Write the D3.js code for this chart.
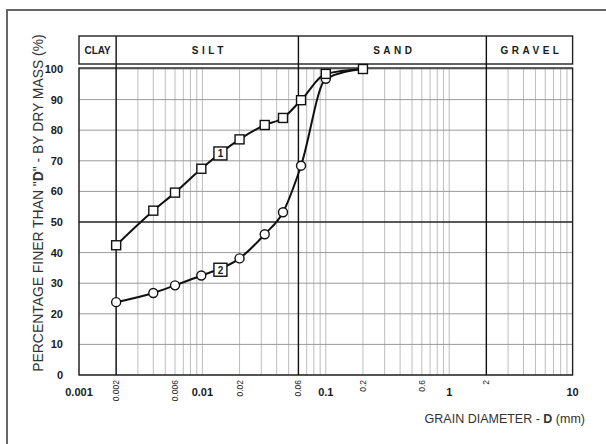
<!DOCTYPE html>
<html>
<head>
<meta charset="utf-8">
<script src="https://cdn.jsdelivr.net/npm/d3@7"></script>
<style>
  body { margin: 0; background: #fff; }
  text { font-family: "Liberation Sans", Arial, sans-serif; fill: #1a1a1a; }
</style>
</head>
<body>
<svg id="chart" width="606" height="444"></svg>
<script>
const width = 606, height = 444;

// grain sizes (mm) and percentage finer
const sizes1 = [0.002, 0.004, 0.006, 0.0098, 0.02, 0.032, 0.045, 0.063, 0.1, 0.2];
const finer1 = [42.4, 53.7, 59.6, 67.4, 77.0, 81.7, 84.0, 89.8, 98.4, 100];
const sizes2 = [0.002, 0.004, 0.006, 0.0098, 0.02, 0.032, 0.045, 0.063, 0.1, 0.2];
const finer2 = [23.8, 26.8, 29.3, 32.5, 38.1, 46.0, 53.2, 68.4, 96.8, 100];

const zones = ["CLAY", "SILT", "SAND", "GRAVEL"];
const zoneBounds = [0.001, 0.002, 0.06, 2, 10];
const majorTicks = [0.001, 0.01, 0.1, 1, 10];
const majorLabels = ["0.001", "0.01", "0.1", "1", "10"];
const minorTicks = [0.002, 0.006, 0.02, 0.06, 0.2, 0.6, 2];
const minorLabels = ["0.002", "0.006", "0.02", "0.06", "0.2", "0.6", "2"];
const yTicks = [0, 10, 20, 30, 40, 50, 60, 70, 80, 90, 100];
const curveTags = [{label: "1", size: 0.014, pct: 72.4}, {label: "2", size: 0.014, pct: 34.4}];

const svg = d3.select("#chart");

const x = d3.scaleLog().domain([0.001, 10]).range([79, 572.6]);
const y = d3.scaleLinear().domain([0, 100]).range([375, 69]);

// outer frame (open on right / bottom)
svg.append("path")
    .attr("d", "M7,444 V10 H606")
    .attr("fill", "none")
    .attr("stroke", "#666")
    .attr("stroke-width", 2);

// vertical grid
const gridX = [];
for (let e = -3; e < 1; e++) {
    for (let k = 1; k <= 9; k++) gridX.push(k * Math.pow(10, e));
}
gridX.push(10);

const grid = svg.append("g").attr("class", "grid");
grid.selectAll("line.v")
    .data(gridX)
    .enter().append("line")
    .attr("class", "v")
    .attr("x1", d => x(d)).attr("x2", d => x(d))
    .attr("y1", y(100) - 1).attr("y2", y(0))
    .attr("stroke", "#bdbdbd")
    .attr("stroke-width", 1);

grid.selectAll("line.h")
    .data(yTicks)
    .enter().append("line")
    .attr("class", "h")
    .attr("x1", x(0.001)).attr("x2", x(10))
    .attr("y1", d => y(d)).attr("y2", d => y(d))
    .attr("stroke", d => d === 50 ? "#222" : "#9a9a9a")
    .attr("stroke-width", d => d === 50 ? 1.3 : 1);

// plot border
svg.append("rect")
    .attr("x", x(0.001)).attr("y", y(100) - 1)
    .attr("width", x(10) - x(0.001))
    .attr("height", y(0) - y(100) + 1)
    .attr("fill", "none")
    .attr("stroke", "#222")
    .attr("stroke-width", 1.4);

// header band with soil classes
const headTop = 36, headBottom = 64;
svg.append("rect")
    .attr("x", x(0.001)).attr("y", headTop)
    .attr("width", x(10) - x(0.001))
    .attr("height", headBottom - headTop)
    .attr("fill", "none")
    .attr("stroke", "#222")
    .attr("stroke-width", 1.4);

// class boundaries
svg.selectAll("line.bound")
    .data(zoneBounds.slice(1, -1))
    .enter().append("line")
    .attr("class", "bound")
    .attr("x1", d => x(d)).attr("x2", d => x(d))
    .attr("y1", headTop).attr("y2", y(0))
    .attr("stroke", "#111")
    .attr("stroke-width", 1.4);

svg.selectAll("text.zone")
    .data(zones)
    .enter().append("text")
    .attr("class", "zone")
    .attr("x", (d, i) => (x(zoneBounds[i]) + x(zoneBounds[i + 1])) / 2 + (i === 0 ? 0 : 2))
    .attr("y", 54)
    .attr("text-anchor", "middle")
    .style("font-size", "10px")
    .style("font-weight", "bold")
    .style("letter-spacing", (d, i) => i === 0 ? "0px" : "3.5px")
    .text(d => d);

// y tick labels
svg.selectAll("text.ytick")
    .data(yTicks)
    .enter().append("text")
    .attr("class", "ytick")
    .attr("x", 63)
    .attr("y", d => y(d) + 4)
    .attr("text-anchor", "end")
    .style("font-size", "11px")
    .style("font-weight", "bold")
    .text(d => d);

// x tick labels
svg.selectAll("text.major")
    .data(majorTicks)
    .enter().append("text")
    .attr("class", "major")
    .attr("x", d => x(d))
    .attr("y", 396)
    .attr("text-anchor", "middle")
    .style("font-size", "11px")
    .style("font-weight", "bold")
    .text((d, i) => majorLabels[i]);

svg.selectAll("text.minor")
    .data(minorTicks)
    .enter().append("text")
    .attr("class", "minor")
    .attr("transform", d => "translate(" + (x(d) + 3) + ",380) rotate(-90)")
    .attr("text-anchor", "end")
    .style("font-size", "8.5px")
    .text((d, i) => minorLabels[i]);

// axis titles
const yTitle = svg.append("text")
    .attr("transform", "translate(43,203) rotate(-90)")
    .attr("text-anchor", "middle")
    .style("font-size", "13.9px")
    .style("fill", "#333");
yTitle.append("tspan").text("PERCENTAGE FINER THAN \"");
yTitle.append("tspan").style("font-weight", "bold").text("D");
yTitle.append("tspan").text("\" - BY DRY MASS (%)");

const xTitle = svg.append("text")
    .attr("x", 585)
    .attr("y", 423)
    .attr("text-anchor", "end")
    .style("font-size", "12.5px")
    .style("fill", "#333");
xTitle.append("tspan").text("GRAIN DIAMETER - ");
xTitle.append("tspan").style("font-weight", "bold").text("D");
xTitle.append("tspan").text(" (mm)");

// curves
const line = d3.line()
    .x(d => x(d[0]))
    .y(d => y(d[1]))
    .curve(d3.curveMonotoneX);

const pts1 = sizes1.map((s, i) => [s, finer1[i]]);
const pts2 = sizes2.map((s, i) => [s, finer2[i]]);

[pts2, pts1].forEach(pts => {
    svg.append("path")
        .datum(pts)
        .attr("d", line)
        .attr("fill", "none")
        .attr("stroke", "#111")
        .attr("stroke-width", 2);
});

svg.append("g").selectAll("circle")
    .data(pts2.slice(0, -1))
    .enter().append("circle")
    .attr("cx", d => x(d[0]))
    .attr("cy", d => y(d[1]))
    .attr("r", 4.5)
    .attr("fill", "#fff")
    .attr("stroke", "#111")
    .attr("stroke-width", 1.4);

svg.append("g").selectAll("rect")
    .data(pts1)
    .enter().append("rect")
    .attr("x", d => x(d[0]) - 4.5)
    .attr("y", d => y(d[1]) - 4.5)
    .attr("width", 9).attr("height", 9)
    .attr("fill", "#fff")
    .attr("stroke", "#111")
    .attr("stroke-width", 1.4);

// curve number tags
const tags = svg.append("g").selectAll("g")
    .data(curveTags)
    .enter().append("g")
    .attr("transform", d => "translate(" + x(d.size) + "," + y(d.pct) + ")");
tags.append("rect")
    .attr("x", -6.5).attr("y", -6.5)
    .attr("width", 13).attr("height", 13)
    .attr("fill", "#fff")
    .attr("stroke", "#111")
    .attr("stroke-width", 1.4);
tags.append("text")
    .attr("y", 4)
    .attr("text-anchor", "middle")
    .style("font-size", "10px")
    .style("font-weight", "bold")
    .text(d => d.label);
</script>
</body>
</html>
